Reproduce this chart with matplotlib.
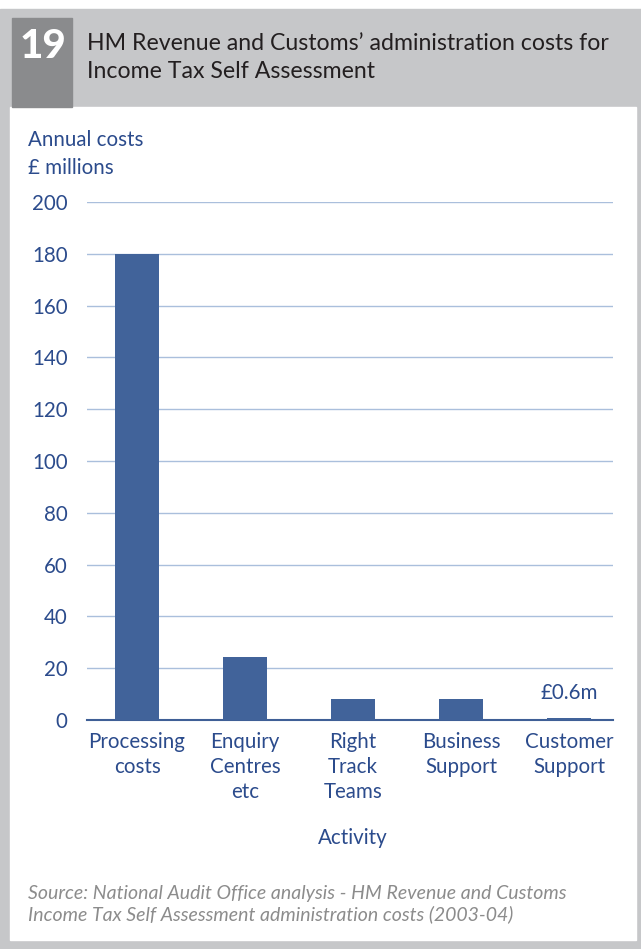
import matplotlib.pyplot as plt
from matplotlib.patches import Rectangle

# data
activities = ['Processing\ncosts', 'Enquiry\nCentres\netc', 'Right\nTrack\nTeams',
              'Business\nSupport', 'Customer\nSupport']
costs = [180, 24.3, 8.1, 8.1, 0.6]
yticks = [0, 20, 40, 60, 80, 100, 120, 140, 160, 180, 200]

W, H = 641, 949
blue_txt = '#2b4b8c'
bar_col = '#41639a'
grid_col = '#aabfdc'

plt.rcParams['font.family'] = ['Lato', 'DejaVu Sans']

fig = plt.figure(figsize=(W / 100, H / 100), dpi=100)

def fx(px):
    return px / W

def fy(py):
    return 1 - py / H

# frame and header
fig.patches.append(Rectangle((0, 0), 1, fy(9),
                             transform=fig.transFigure, color='#c6c7c9', zorder=0))
fig.patches.append(Rectangle((fx(10), fy(940)), fx(626), (940 - 107) / H,
                             transform=fig.transFigure, color='white', zorder=1))
fig.patches.append(Rectangle((fx(12), fy(107)), fx(60), (107 - 18) / H,
                             transform=fig.transFigure, color='#8a8b8d', zorder=1))
fig.text(fx(43), fy(47), '19', color='white', fontsize=29, fontweight='black',
         ha='center', va='center', zorder=2)
fig.text(fx(87), fy(43), 'HM Revenue and Customs’ administration costs for',
         fontsize=16.7, color='#231f20', va='center', ha='left', zorder=2)
fig.text(fx(87), fy(72), 'Income Tax Self Assessment',
         fontsize=16.7, color='#231f20', va='center', ha='left', zorder=2)

# axes
ax = fig.add_axes([fx(87), fy(720), fx(613 - 87), (720 - 202) / H])
ax.set_zorder(3)
ax.patch.set_alpha(0)
x = list(range(len(costs)))
ax.bar(x, costs, width=0.41, color=bar_col, zorder=3)
ax.set_xlim(-0.463, 4.407)
ax.set_ylim(0, 200)
ax.set_yticks(yticks)
ax.set_yticklabels([str(v) for v in yticks])
ax.set_xticks(x)
ax.set_xticklabels(activities, linespacing=1.3)
ax.tick_params(length=0, labelsize=14.8, colors=blue_txt)
ax.tick_params(axis='y', pad=14)
ax.tick_params(axis='x', pad=9)
ax.yaxis.grid(True, color=grid_col, linewidth=1)
ax.set_axisbelow(True)
for s in ['top', 'right', 'left']:
    ax.spines[s].set_visible(False)
ax.spines['bottom'].set_color('#3f5f96')
ax.spines['bottom'].set_linewidth(1.5)

ax.text(x[4], costs[4] + 6, '£0.6m', ha='center', va='bottom', fontsize=14.8,
        color=blue_txt)

fig.text(fx(28), fy(140), 'Annual costs', fontsize=14.8, color=blue_txt, va='center')
fig.text(fx(28), fy(168), '£ millions', fontsize=14.8, color=blue_txt, va='center')
fig.text(fx(353), fy(838), 'Activity', fontsize=14.8, color=blue_txt,
         va='center', ha='center')

fig.text(fx(28), fy(893), 'Source: National Audit Office analysis - HM Revenue and Customs',
         fontsize=14, color='#8c8c8c', style='italic', va='center')
fig.text(fx(28), fy(914), 'Income Tax Self Assessment administration costs (2003-04)',
         fontsize=14, color='#8c8c8c', style='italic', va='center')

fig.savefig('out.png', dpi=100)
